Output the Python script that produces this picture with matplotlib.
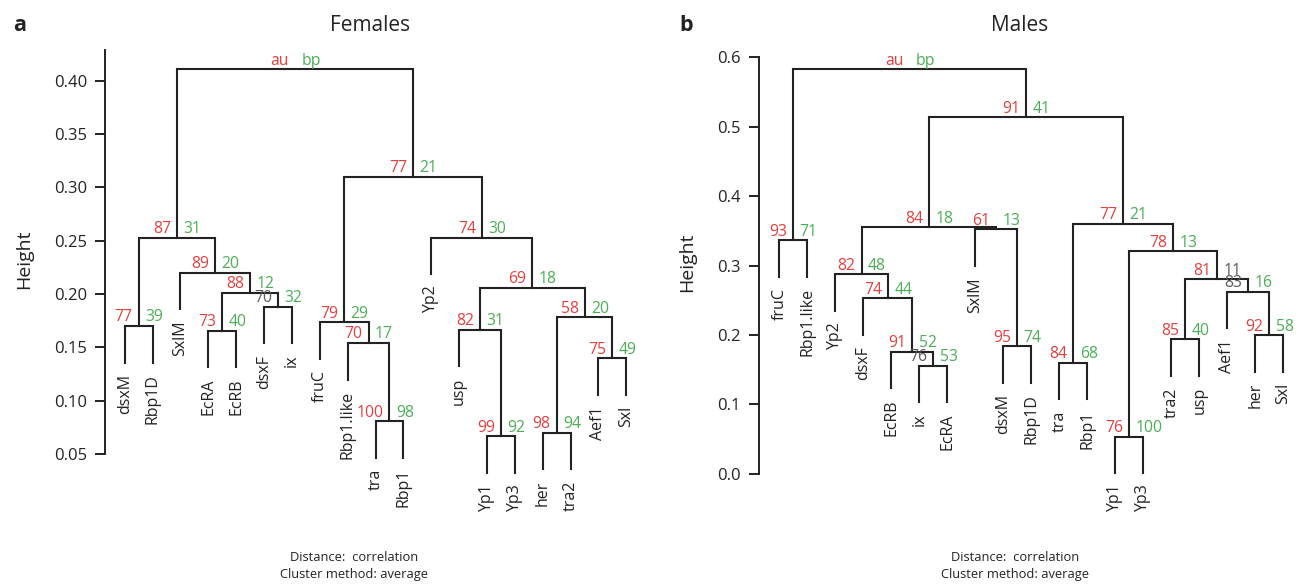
import matplotlib.pyplot as plt

plt.rcParams['font.family'] = ['Open Sans', 'DejaVu Sans']

RED = '#e2403f'
GREEN = '#4bae55'
GRAY = '#5a5a5a'
INK = '#222222'

# ---- Females (panel a) ----
f_labels = ['dsxM', 'Rbp1D', 'SxlM', 'EcRA', 'EcRB', 'dsxF', 'ix', 'fruC', 'Rbp1.like',
            'tra', 'Rbp1', 'Yp2', 'usp', 'Yp1', 'Yp3', 'her', 'tra2', 'Aef1', 'Sxl']
# merges, R hclust style: negative = leaf (position in plot order), positive = earlier merge
f_left = [-14, -16, -10, -18, -9, -4, -13, -1, -8, 2, -6, 6, 7, -3, 8, -12, 9, 15]
f_right = [-15, -17, -11, -19, 3, -5, 1, -2, 5, 4, -7, 11, 10, 12, 14, 13, 16, 17]
f_height = [0.0664, 0.0698, 0.0808, 0.1396, 0.154, 0.1655, 0.1664, 0.170, 0.1733, 0.178,
            0.188, 0.2011, 0.2058, 0.220, 0.2527, 0.2527, 0.310, 0.411]
f_au = ['99', '98', '100', '75', '70', '73', '82', '77', '79', '58',
        '70', '88', '69', '89', '87', '74', '77', 'au']
f_bp = ['92', '94', '98', '49', '17', '40', '31', '39', '29', '20',
        '32', '12', '18', '20', '31', '30', '21', 'bp']
f_gray_au = [11]
f_gray_bp = []
f_ticks = [0.05, 0.10, 0.15, 0.20, 0.25, 0.30, 0.35, 0.40]
f_ticklabels = ['0.05', '0.10', '0.15', '0.20', '0.25', '0.30', '0.35', '0.40']

# ---- Males (panel b) ----
m_labels = ['fruC', 'Rbp1.like', 'Yp2', 'dsxF', 'EcRB', 'ix', 'EcRA', 'SxlM', 'dsxM', 'Rbp1D',
            'tra', 'Rbp1', 'Yp1', 'Yp3', 'tra2', 'usp', 'Aef1', 'her', 'Sxl']
m_left = [-13, -6, -11, -5, -9, -15, -18, -4, -17, 6, -3, 1, -1, -8, 11, 3, 15, 13]
m_right = [-14, -7, -12, 2, -10, -16, -19, 4, 7, 9, 8, 10, -2, 5, 14, 12, 16, 17]
m_height = [0.0536, 0.1558, 0.1602, 0.1760, 0.1842, 0.1939, 0.2001, 0.2529, 0.2624, 0.2803,
            0.2875, 0.3210, 0.3365, 0.3523, 0.3552, 0.3604, 0.5136, 0.5832]
m_au = ['76', '76', '84', '91', '95', '85', '92', '74', '83', '81',
        '82', '78', '93', '61', '84', '77', '91', 'au']
m_bp = ['100', '53', '68', '52', '74', '40', '58', '44', '16', '11',
        '48', '13', '71', '13', '18', '21', '41', 'bp']
m_gray_au = [2, 9]
m_gray_bp = [10]
m_ticks = [0.0, 0.1, 0.2, 0.3, 0.4, 0.5, 0.6]
m_ticklabels = ['0.0', '0.1', '0.2', '0.3', '0.4', '0.5', '0.6']

W, H = 1301, 586
fig = plt.figure(figsize=(W / 100, H / 100), dpi=100)


def px_axes(x0, x1, y0, y1):
    return fig.add_axes([x0 / W, 1 - y1 / H, (x1 - x0) / W, (y1 - y0) / H])


def draw_tree(ax, labels, left, right, height, au, bp, gray_au, gray_bp):
    hang = 0.1 * (max(height) - min(height))
    xpos = {}
    for k in range(len(left)):
        h = height[k]
        xs, ys = [], []
        for c in (left[k], right[k]):
            if c < 0:
                x, y0 = -c, h - hang
                ax.annotate(labels[-c - 1], (x, y0), xytext=(0, -8), textcoords='offset points',
                            rotation=90, ha='center', va='top', fontsize=11.5, color=INK,
                            annotation_clip=False)
            else:
                x, y0 = xpos[c], height[c - 1]
            xs.append(x)
            ys.append(y0)
        ax.plot([xs[0], xs[0], xs[1], xs[1]], [ys[0], h, h, ys[1]], color=INK, lw=1.5,
                solid_joinstyle='miter', clip_on=False)
        xm = (xs[0] + xs[1]) / 2
        xpos[k + 1] = xm
        fs = 11.3
        ax.annotate(au[k], (xm, h), xytext=(-4.3, 3.2), textcoords='offset points',
                    ha='right', va='baseline', fontsize=fs,
                    color=GRAY if (k + 1) in gray_au else RED, annotation_clip=False)
        ax.annotate(bp[k], (xm, h), xytext=(4.6, 3.2), textcoords='offset points',
                    ha='left', va='baseline', fontsize=fs,
                    color=GRAY if (k + 1) in gray_bp else GREEN, annotation_clip=False)


def style_axis(ax, ticks, ticklabels, lo, hi, pad):
    for s in ['top', 'right', 'bottom']:
        ax.spines[s].set_visible(False)
    ax.spines['left'].set_bounds(lo, hi)
    ax.spines['left'].set_linewidth(1.4)
    ax.spines['left'].set_color(INK)
    ax.set_xticks([])
    ax.set_yticks(ticks)
    ax.set_yticklabels(ticklabels)
    ax.tick_params(axis='y', length=7, width=1.4, color=INK, labelsize=12, labelcolor=INK, pad=pad)
    ax.patch.set_alpha(0)


# panel a
axa = px_axes(104.6, 646.4, 40, 470)
axa.set_xlim(0.28, 19.72)
axa.set_ylim(0.0348, 0.4382)
draw_tree(axa, f_labels, f_left, f_right, f_height, f_au, f_bp, f_gray_au, f_gray_bp)
style_axis(axa, f_ticks, f_ticklabels, 0.05, 0.4288, 5.5)

# panel b
axb = px_axes(759.1, 1295, 40, 490)
axb.set_xlim(0.2786, 19.418)
axb.set_ylim(-0.0232, 0.6249)
draw_tree(axb, m_labels, m_left, m_right, m_height, m_au, m_bp, m_gray_au, m_gray_bp)
style_axis(axb, m_ticks, m_ticklabels, 0.0, 0.6, 6.5)


def ftext(x, y, s, **kw):
    fig.text(x / W, 1 - y / H, s, color=INK, **kw)


ftext(20, 31, 'a', fontsize=15.5, fontweight='bold', ha='center', va='baseline')
ftext(686, 31, 'b', fontsize=15.5, fontweight='bold', ha='center', va='baseline')
ftext(370, 31, 'Females', fontsize=15, ha='center', va='baseline')
ftext(1020, 31, 'Males', fontsize=15, ha='center', va='baseline')
ftext(24, 259, 'Height', fontsize=14, rotation=90, ha='center', va='center')
ftext(687, 262, 'Height', fontsize=14, rotation=90, ha='center', va='center')
for cx in (354, 1015):
    ftext(cx, 561, 'Distance:  correlation', fontsize=9.3, ha='center', va='baseline')
    ftext(cx, 578, 'Cluster method: average', fontsize=9.3, ha='center', va='baseline')

fig.savefig('out.png', dpi=100)
